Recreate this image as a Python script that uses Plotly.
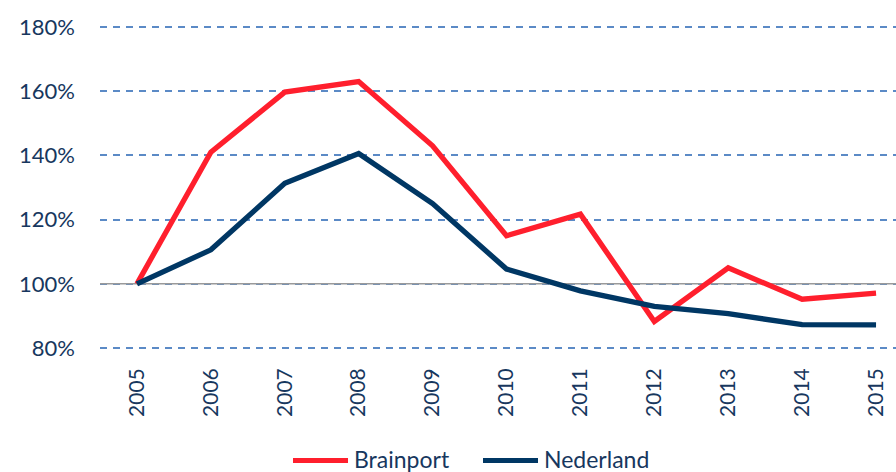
import plotly.graph_objects as go

years = [2005, 2006, 2007, 2008, 2009, 2010, 2011, 2012, 2013, 2014, 2015]
brainport = [100, 141, 159.7, 163, 143, 115, 121.7, 88.3, 105, 95.2, 97.1]
nederland = [100, 110.6, 131.3, 140.6, 125, 104.6, 97.8, 93, 90.7, 87.3, 87.2]
y_ticks = [80, 100, 120, 140, 160, 180]
y_tick_labels = ["80%", "100%", "120%", "140%", "160%", "180%"]
baseline = 100

series = [("Brainport", brainport, "#FF1F2D"), ("Nederland", nederland, "#003764")]

text_color = "#17375E"
font_family = "Lato, 'Open Sans', sans-serif"

# layout geometry in pixels
W, H = 896, 472
ML, MR, MT, MB = 100, 0, 25, 122
plot_w, plot_h = W - ML - MR, H - MT - MB
x_range = [2004.5, 2015.27]


def px_x(px):
    return (px - ML) / plot_w


def px_y(py):
    return (H - MB - py) / plot_h


fig = go.Figure()

# solid reference line at 100%, above the dashed grid and under the data
fig.add_trace(go.Scatter(x=x_range, y=[baseline, baseline], mode="lines",
                         line=dict(color="#9A9A9A", width=1.5),
                         hoverinfo="skip", showlegend=False))

for name, vals, color in series:
    fig.add_trace(go.Scatter(x=years, y=vals, mode="lines", name=name,
                             line=dict(color=color, width=5.3), showlegend=False))

# legend row: line sample followed by the series name
legend_items = [(293, 348, 352), (483, 538, 542)]
for (x0, x1, xt), (name, _, color) in zip(legend_items, series):
    fig.add_shape(type="line", xref="paper", yref="paper",
                  x0=px_x(x0), x1=px_x(x1), y0=px_y(460.5), y1=px_y(460.5),
                  line=dict(color=color, width=5))
    fig.add_annotation(x=px_x(xt), y=px_y(459), xref="paper", yref="paper",
                       text=name, showarrow=False, xanchor="left", yanchor="middle",
                       font=dict(size=23, color=text_color, family=font_family))

fig.update_layout(
    width=W, height=H,
    margin=dict(l=ML, r=MR, t=MT, b=MB),
    paper_bgcolor="white", plot_bgcolor="white",
    font=dict(family=font_family, color=text_color, size=21),
    showlegend=False,
    xaxis=dict(range=x_range, tickmode="array", tickvals=years,
               ticktext=[str(y) for y in years], tickangle=-90,
               showgrid=False, zeroline=False, showline=False, ticks="",
               automargin=False, ticklabelstandoff=13,
               tickfont=dict(size=21, color=text_color)),
    yaxis=dict(range=[79.4, 180.6], tickmode="array", tickvals=y_ticks,
               ticktext=y_tick_labels, showgrid=True, gridcolor="#5B8AC6",
               griddash="7px,6px", gridwidth=1.5, zeroline=False, showline=False,
               ticks="", automargin=False, ticklabelstandoff=24,
               tickfont=dict(size=22, color=text_color)),
)

fig.write_html("out.html")
